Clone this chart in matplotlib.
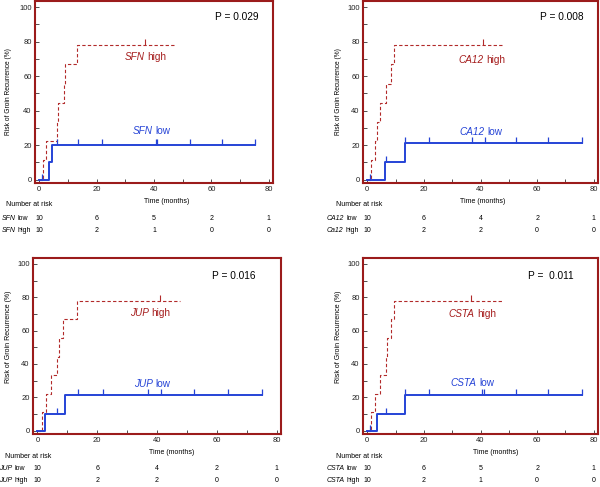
import numpy as np
import matplotlib
matplotlib.use("Agg")
import matplotlib.pyplot as plt
from matplotlib.transforms import ScaledTranslation

plt.rcParams["font.family"] = ["Liberation Sans", "DejaVu Sans"]

# ---- data ----
genes = ["SFN", "CA12", "JUP", "CSTA"]
high_row_names = ["SFN", "Ca12", "JUP", "CSTA"]
p_values = ["P = 0.029", "P = 0.008", "P = 0.016", "P =  0.011"]

sfn_low_t = [0, 3.3, 4.5, 75.3]
sfn_low_y = [0, 10.0, 20.0, 20.0]
sfn_low_cens = [1.0, 6.3, 13.5, 21.9, 40.7, 41.2, 52.4, 63.7, 75.3]
sfn_high_t = [0, 1.2, 2.2, 6.2, 6.6, 8.6, 9.1, 13.1, 47.5]
sfn_high_y = [0, 11.1, 22.2, 33.3, 44.4, 55.6, 66.7, 77.8, 77.8]
sfn_high_cens = [37.0]

ca12_low_t = [0, 6.2, 13.2, 75.9]
ca12_low_y = [0, 10.0, 21.3, 21.3]
ca12_low_cens = [1.0, 6.5, 13.3, 21.8, 37.0, 41.5, 52.5, 64.0, 75.9]
ca12_high_t = [0, 1.4, 2.6, 3.6, 4.4, 6.7, 8.5, 9.3, 47.8]
ca12_high_y = [0, 11.1, 22.2, 33.3, 44.4, 55.6, 66.7, 77.8, 77.8]
ca12_high_cens = [41.0]

jup_low_t = [0, 2.5, 9.3, 75.3]
jup_low_y = [0, 10.0, 21.1, 21.1]
jup_low_cens = [6.4, 13.6, 22.0, 37.0, 41.4, 52.3, 63.9, 75.3]
jup_high_t = [0, 1.6, 3.0, 4.4, 6.4, 7.2, 8.6, 13.1, 47.8]
jup_high_y = [0, 11.1, 22.2, 33.3, 44.4, 55.6, 66.7, 77.8, 77.8]
jup_high_cens = [41.1]

csta_low_t = [0, 3.3, 13.2, 75.8]
csta_low_y = [0, 10.0, 21.4, 21.4]
csta_low_cens = [1.0, 6.5, 13.3, 21.8, 40.7, 41.3, 52.5, 64.0, 75.8]
csta_high_t = [0, 1.4, 2.6, 4.4, 6.7, 6.9, 8.5, 9.3, 47.8]
csta_high_y = [0, 11.1, 22.2, 33.3, 44.4, 55.6, 66.7, 77.8, 77.8]
csta_high_cens = [36.8]

risk_times = [0, 20, 40, 60, 80]
sfn_risk_low = [10, 6, 5, 2, 1]
sfn_risk_high = [10, 2, 1, 0, 0]
ca12_risk_low = [10, 6, 4, 2, 1]
ca12_risk_high = [10, 2, 2, 0, 0]
jup_risk_low = [10, 6, 4, 2, 1]
jup_risk_high = [10, 2, 2, 0, 0]
csta_risk_low = [10, 6, 5, 2, 1]
csta_risk_high = [10, 2, 1, 0, 0]

panels = [
    (sfn_low_t, sfn_low_y, sfn_low_cens, sfn_high_t, sfn_high_y, sfn_high_cens, sfn_risk_low, sfn_risk_high),
    (ca12_low_t, ca12_low_y, ca12_low_cens, ca12_high_t, ca12_high_y, ca12_high_cens, ca12_risk_low, ca12_risk_high),
    (jup_low_t, jup_low_y, jup_low_cens, jup_high_t, jup_high_y, jup_high_cens, jup_risk_low, jup_risk_high),
    (csta_low_t, csta_low_y, csta_low_cens, csta_high_t, csta_high_y, csta_high_cens, csta_risk_low, csta_risk_high),
]

# layout (pixels): box left, right, top, bottom
W, H = 600, 487
boxes = [(35, 273, 1, 183), (363, 598, 1, 183), (33, 281, 258, 434), (363, 598, 258, 434)]
row_label_x = [2, 327, -1, 327]
nar_label_x = [6, 336, 5, 336]
xlabel_pos = [0.555, 0.51, 0.56, 0.566]
ylabel_pos = [(-0.097, 0.5, 4.8), (-0.088, 0.5, 4.8), (-0.085, 0.55, 5.0), (-0.088, 0.55, 5.0)]
high_lab = [(37, 71.5), (40.4, 70), (37.7, 71.3), (37.2, 70.6)]
low_lab = [(39, 28.6), (40, 28.3), (38.3, 28.5), (37.2, 29.2)]
p_pos = [(68.9, 94.4), (68.7, 94.4), (65.8, 92.8), (65.0, 92.8)]

FRAME = "#9B1B1B"
RED = "#B22A2A"
RED_TXT = "#A51C1C"
BLUE = "#2543D6"
TICK = "#333333"


def step_value(t, y, x):
    idx = np.searchsorted(t, x, side="right") - 1
    return np.array(y)[idx]


def gene_label(ax, x, y, gene, rest, transform, center, fontsize, **kw):
    """italic gene name followed by plain text"""
    t1 = ax.text(x, y, gene, style="italic", ha="left", va="bottom", fontsize=fontsize,
                 transform=transform, clip_on=False, **kw)
    gap = fontsize * 0.28
    t2 = ax.annotate(rest, xy=(1, 0), xycoords=t1, xytext=(gap, 0),
                     textcoords="offset points", ha="left", va="bottom",
                     fontsize=fontsize, annotation_clip=False, **kw)
    if center:
        centered.append((t1, t2, transform, gap))
    return t1, t2


centered = []
fig = plt.figure(figsize=(W / 100, H / 100), dpi=100)

for i, (lt, ly, lc, ht, hy, hc, rl, rh) in enumerate(panels):
    l, r, t, b = boxes[i]
    ax = fig.add_axes([l / W, 1 - b / H, (r - l) / W, (b - t) / H])
    ax.set_xlim(-1.5, 81.5)
    ax.set_ylim(-2, 103.5)

    ax.step(ht, hy, where="post", color=RED, lw=0.8, ls=(0, (3, 2)))
    ax.plot(hc, step_value(ht, hy, hc), ls="none", marker=2, ms=4, mew=0.8, color=RED)
    ax.step(lt, ly, where="post", color=BLUE, lw=1.4)
    ax.plot(lc, step_value(lt, ly, lc), ls="none", marker=2, ms=4, mew=0.9, color=BLUE)

    for s in ax.spines.values():
        s.set_color(FRAME)
        s.set_linewidth(1.5)

    ax.set_xticks(risk_times)
    ax.set_xticks([10, 30, 50, 70], minor=True)
    ax.set_yticks([0, 20, 40, 60, 80, 100])
    ax.set_yticks([10, 30, 50, 70, 90], minor=True)
    ax.tick_params(which="both", direction="in", length=3, width=0.6, color=TICK,
                   labelsize=5.5, labelcolor="#222222", pad=2.5)

    ax.set_xlabel("Time (months)", fontsize=5.0, labelpad=1)
    ax.xaxis.set_label_coords(xlabel_pos[i], -0.085)
    yx, yy, yfs = ylabel_pos[i]
    ax.set_ylabel("Risk of Groin Recurrence (%)", fontsize=yfs)
    ax.yaxis.set_label_coords(yx, yy)

    g = genes[i]
    hx, hyy = high_lab[i]
    gene_label(ax, hx, hyy - 3.5, g, "high", ax.transData, True, 7.2, color=RED_TXT)
    lx, lyy = low_lab[i]
    gene_label(ax, lx, lyy - 3.5, g, "low", ax.transData, True, 7.2, color=BLUE)
    ax.text(*p_pos[i], p_values[i], color="black", fontsize=7.3, ha="center", va="center")

    # number at risk table
    h_box = b - t
    y_nar = b + 22 if i < 2 else b + 23
    y_r1 = b + 35
    y_r2 = b + 47
    fig.text(nar_label_x[i] / W, 1 - y_nar / H, "Number at risk", fontsize=5.0,
             va="center", ha="left")
    gene_label(ax, row_label_x[i] / W, 1 - (y_r1 + 3.5) / H, g, "low", fig.transFigure,
               False, 5.0)
    gene_label(ax, row_label_x[i] / W, 1 - (y_r2 + 3.5) / H, high_row_names[i], "high",
               fig.transFigure, False, 5.0)
    trans = ax.get_xaxis_transform()
    for xt, a, c in zip(risk_times, rl, rh):
        ax.text(xt, -(y_r1 - b) / h_box, str(a), transform=trans, fontsize=5.0,
                ha="center", va="center", clip_on=False)
        ax.text(xt, -(y_r2 - b) / h_box, str(c), transform=trans, fontsize=5.0,
                ha="center", va="center", clip_on=False)

# shift the two-part labels so the whole label is centred on its point
fig.canvas.draw()
renderer = fig.canvas.get_renderer()
for t1, t2, tr, gap in centered:
    w = (t1.get_window_extent(renderer).width + t2.get_window_extent(renderer).width
         + gap * fig.dpi / 72)
    t1.set_transform(tr + ScaledTranslation(-w / 2 / fig.dpi, 0, fig.dpi_scale_trans))

fig.savefig("out.png", dpi=100)
